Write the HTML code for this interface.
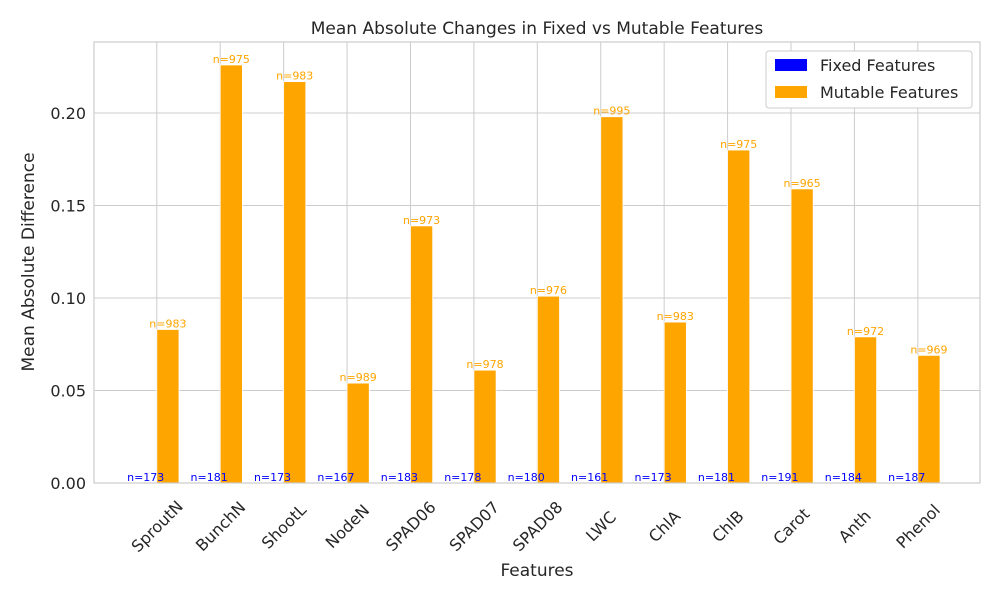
<!DOCTYPE html>
<html><head><meta charset="utf-8"><style>
body{margin:0;background:#fff;font-family:"Liberation Sans","DejaVu Sans",sans-serif}
svg text{font-family:"DejaVu Sans","Liberation Sans",sans-serif}
</style></head><body>
<svg id="chart" width="1000" height="600" xmlns="http://www.w3.org/2000/svg">
<rect width="1000" height="600" fill="#fff"/>
<g id="grid"></g><g id="bars"></g><g id="labels"></g>
<rect x="94" y="42" width="886" height="441" fill="none" stroke="#ccc" stroke-width="1.2"/>
<text x="537" y="34" text-anchor="middle" font-size="17" fill="#262626">Mean Absolute Changes in Fixed vs Mutable Features</text>
<text x="537" y="576" text-anchor="middle" font-size="17" fill="#262626">Features</text>
<text x="34" y="262" text-anchor="middle" font-size="17" fill="#262626" transform="rotate(-90 34 262)">Mean Absolute Difference</text>
<g>
<rect x="766" y="51" width="206" height="57" fill="#fff" stroke="#ccc" rx="3"/>
<rect x="775" y="59" width="32" height="12" fill="blue"/>
<text x="820" y="71" font-size="16" fill="#262626">Fixed Features</text>
<rect x="775" y="86" width="32" height="12" fill="orange"/>
<text x="820" y="98" font-size="16" fill="#262626">Mutable Features</text>
</g>
</svg>
<script>
const categories=["SproutN","BunchN","ShootL","NodeN","SPAD06","SPAD07","SPAD08","LWC","ChlA","ChlB","Carot","Anth","Phenol"];
const fixedValues=[0,0,0,0,0,0,0,0,0,0,0,0,0];
const mutableValues=[0.083,0.226,0.217,0.054,0.139,0.061,0.101,0.198,0.087,0.180,0.159,0.079,0.069];
const fixedCounts=[173,181,173,167,183,178,180,161,173,181,191,184,187];
const mutableCounts=[983,975,983,989,973,978,976,995,983,975,965,972,969];
const yTicks=[0,0.05,0.10,0.15,0.20];
const yTickLabels=["0.00","0.05","0.10","0.15","0.20"];
const NS="http://www.w3.org/2000/svg";
const L=94,R=980,T=42,B=483,xmin=-0.99,xmax=12.98,ymax=0.2384;
const xs=v=>L+(v-xmin)/(xmax-xmin)*(R-L);
const ys=v=>B-v/ymax*(B-T);
const pxPer=(R-L)/(xmax-xmin);
function mk(tag,attrs,parent){const e=document.createElementNS(NS,tag);for(const k in attrs)e.setAttribute(k,attrs[k]);document.getElementById(parent).appendChild(e);return e;}
yTicks.forEach((t,i)=>{
 const l=mk('line',{x1:L,x2:R,y1:ys(t),y2:ys(t),stroke:'#ccc','stroke-width':1},'grid');
 
 
 const tx=mk('text',{x:L-8,y:ys(t)+6,'text-anchor':'end','font-size':16,fill:'#262626'},'labels');
 tx.textContent=yTickLabels[i];
 
 
});
const bw=0.35;
categories.forEach((c,i)=>{
 const g=mk('line',{x1:xs(i),x2:xs(i),y1:T,y2:B,stroke:'#ccc','stroke-width':1},'grid');
 
 
 const fx=xs(i-bw/2);
 const fb=mk('rect',{x:fx-bw*pxPer/2,width:bw*pxPer,y:ys(fixedValues[i]),height:B-ys(fixedValues[i]),fill:'blue'},'bars');
 
 
 const mx=xs(i+bw/2);
 const mb=mk('rect',{x:mx-bw*pxPer/2,width:bw*pxPer,y:ys(mutableValues[i]),height:B-ys(mutableValues[i]),fill:'orange',stroke:'#fff','stroke-width':0.8},'bars');
 
 
 const ft=mk('text',{x:fx,y:ys(fixedValues[i])-2,'text-anchor':'middle','font-size':11,fill:'blue'},'labels');
 ft.textContent='n='+fixedCounts[i];
 
 
 const mt=mk('text',{x:mx,y:ys(mutableValues[i])-2,'text-anchor':'middle','font-size':11,fill:'orange'},'labels');
 mt.textContent='n='+mutableCounts[i];
 
 
 const cx=xs(i), cy=B+43;
 const xl=mk('text',{x:cx,y:cy+6,'text-anchor':'middle','font-size':16,fill:'#262626',transform:`rotate(-45 ${cx} ${cy})`},'labels');
 xl.textContent=c;
 
 
});
</script>
</body></html>
